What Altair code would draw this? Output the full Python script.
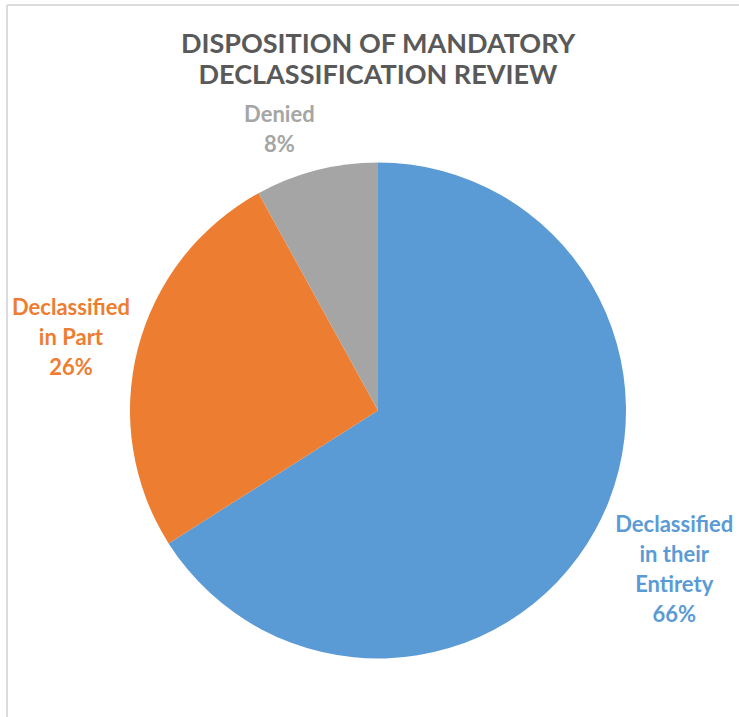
import altair as alt
import pandas as pd

categories = ["Declassified in their Entirety", "Declassified in Part", "Denied"]
label_lines = [["Declassified", "in their", "Entirety", "66%"],
               ["Declassified", "in Part", "26%"],
               ["Denied", "8%"]]
values = [66, 26, 8]
colors = ["#5B9BD5", "#ED7D31", "#A5A5A5"]
title_lines = ["DISPOSITION OF MANDATORY", "DECLASSIFICATION REVIEW"]

df = pd.DataFrame({
    "cat": categories,
    "value": values,
    "order": list(range(len(categories))),
    "label": label_lines,
})

CX, CY, R = 378, 410.5, 248
FONT = "Lato"

base = alt.Chart(df)

pie = base.mark_arc(outerRadius=R, stroke=None).encode(
    theta=alt.Theta("value:Q", stack=True),
    order=alt.Order("order:Q"),
    color=alt.Color("cat:N", scale=alt.Scale(domain=categories, range=colors), legend=None),
    x=alt.value(CX), y=alt.value(CY),
)

# label angles computed from stacked values (radians)
lab_base = base.transform_window(
    cum="sum(value)", sort=[alt.SortField("order")], frame=[None, 0]
).transform_joinaggregate(total="sum(value)").transform_calculate(
    mid="(datum.cum - datum.value/2) / datum.total * 2 * PI"
)

label_cfg = {
    categories[0]: dict(radius=338, dx=0, dy=-48),
    categories[1]: dict(radius=317, dx=0, dy=-24),
    categories[2]: dict(radius=292, dx=-26, dy=-13),
}

label_layers = []
for cat, col in zip(categories, colors):
    cfg = label_cfg[cat]
    label_layers.append(
        lab_base.transform_filter(alt.datum.cat == cat).mark_text(
            font=FONT, fontSize=22, fontWeight="bold", color=col,
            lineHeight=30, align="center", baseline="middle",
            dx=cfg["dx"], dy=cfg["dy"],
        ).encode(
            theta=alt.Theta("mid:Q", scale=None),
            radius=alt.value(cfg["radius"]),
            text="label",
            x=alt.value(CX), y=alt.value(CY),
        )
    )

title = alt.Chart(pd.DataFrame({"t": [title_lines]})).mark_text(
    font=FONT, fontSize=27, fontWeight="bold", color="#595959",
    lineHeight=31, align="center", baseline="middle",
).encode(text="t", x=alt.value(CX), y=alt.value(45))

border_top = alt.Chart(pd.DataFrame({"a": [0]})).mark_rule(
    color="#DCDCDC", strokeWidth=2
).encode(x=alt.value(7), x2=alt.value(739), y=alt.value(5))
border_left = alt.Chart(pd.DataFrame({"a": [0]})).mark_rule(
    color="#DCDCDC", strokeWidth=2
).encode(x=alt.value(7), y=alt.value(5), y2=alt.value(717))

chart = alt.layer(border_top, border_left, pie, *label_layers, title).properties(
    width=739, height=717, padding=0,
    autosize=alt.AutoSizeParams(type="none"),
    background="white",
).configure_view(stroke=None)

chart.save("out.html", embed_options={"renderer": "svg", "actions": False})
